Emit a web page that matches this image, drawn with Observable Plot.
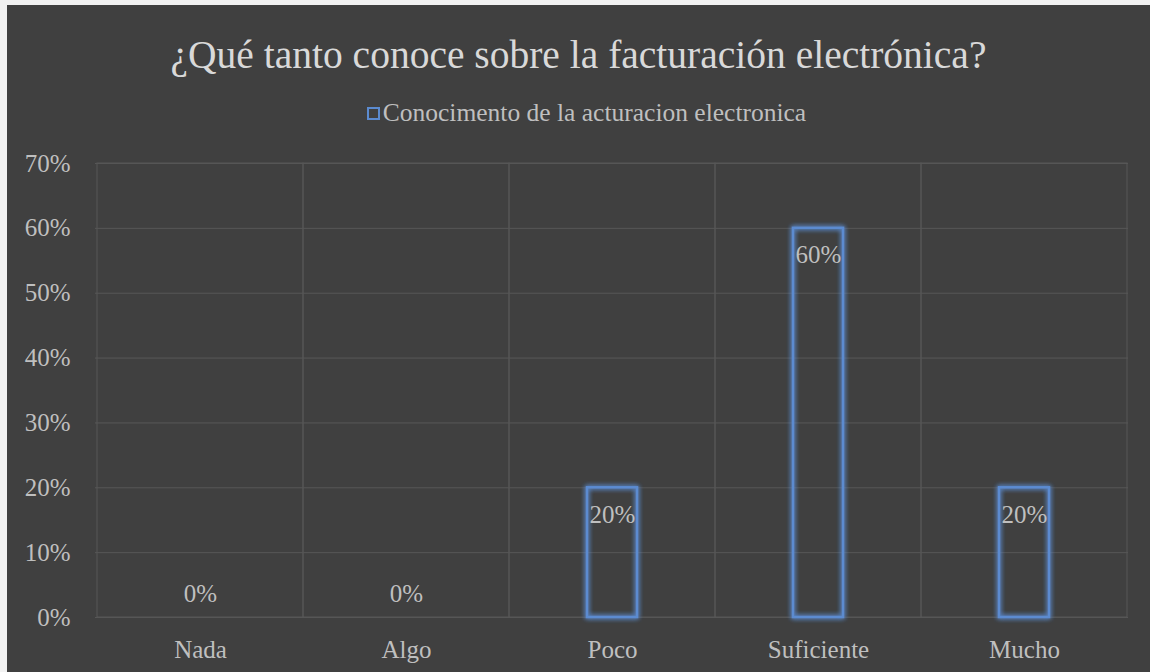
<!DOCTYPE html>
<html>
<head>
<meta charset="utf-8">
<script src="https://cdn.jsdelivr.net/npm/d3@7"></script>
<script src="https://cdn.jsdelivr.net/npm/@observablehq/plot@0.6"></script>
<style>
  html, body { margin: 0; padding: 0; background: #f2f2f2; }
  #chart { position: absolute; left: 7px; top: 5px; width: 1143px; height: 667px; background: #404040; overflow: hidden;
    font-family: "Liberation Serif", "DejaVu Serif", serif; }
  #title { position: absolute; left: 0; width: 100%; top: 29px; text-align: center; color: #d9d9d9; font-size: 39.5px; line-height: 42px; }
  #legend { position: absolute; left: 8px; width: 100%; top: 95px; text-align: center; color: #bfbfbf; font-size: 25.5px; line-height: 26px; }
  #legend .sw { display: inline-block; width: 9px; height: 9px; border: 2px solid #5b8bd0; margin-right: 3px; vertical-align: 1px; }
  #plot { position: absolute; left: 0; top: 135px; }
</style>
</head>
<body>
<div id="chart">
  <div id="title"></div>
  <div id="legend"></div>
  <div id="plot"></div>
</div>
<script>
const titleText = "¿Qué tanto conoce sobre la facturación electrónica?";
const seriesName = "Conocimento de la acturacion electronica";
const categories = ["Nada", "Algo", "Poco", "Suficiente", "Mucho"];
const values = [0, 0, 0.2, 0.6, 0.2];
const yTicks = [0, 0.1, 0.2, 0.3, 0.4, 0.5, 0.6, 0.7];

document.getElementById("title").textContent = titleText;
document.getElementById("legend").innerHTML = '<span class="sw"></span>' + seriesName;

const data = categories.map((c, i) => ({cat: c, value: values[i]}));
const fmt = d3.format(".0%");
const barColor = "#5b8bd0";
const gridColor = "#575757";
const textColor = "#bfbfbf";

const chart = Plot.plot({
  width: 1143,
  height: 532,
  marginLeft: 88,
  marginRight: 22,
  marginTop: 23,
  marginBottom: 55,
  style: {background: "transparent", color: textColor, fontFamily: "'Liberation Serif', 'DejaVu Serif', serif", fontSize: "25px"},
  x: {domain: categories, padding: 0, label: null},
  y: {domain: [yTicks[0], yTicks[yTicks.length - 1]], label: null},
  marks: [
    Plot.gridY(yTicks, {stroke: gridColor, strokeOpacity: 1}),
    Plot.barY(categories, {x: d => d, y1: yTicks[0], y2: yTicks[yTicks.length - 1], fill: "none", stroke: gridColor}),
    Plot.barY(data, {filter: d => d.value > 0, x: "cat", y: "value", fill: "none", stroke: barColor, strokeWidth: 2.5, insetLeft: 78, insetRight: 78, className: "glowbar"}),
    Plot.text(data, {filter: d => d.value > 0, x: "cat", y: "value", text: d => fmt(d.value), dy: 27, fill: textColor, fontSize: 25}),
    Plot.text(data, {filter: d => d.value === 0, x: "cat", y: "value", text: d => fmt(d.value), dy: -24, fill: textColor, fontSize: 25}),
    Plot.axisY(yTicks, {tickSize: 0, tickPadding: 25, tickFormat: fmt, fill: textColor}),
    Plot.axisX({tickSize: 0, tickPadding: 23, fill: textColor})
  ]
});
document.getElementById("plot").appendChild(chart);

// soft glow around bars
const ns = "http://www.w3.org/2000/svg";
const defs = document.createElementNS(ns, "defs");
defs.innerHTML = '<filter id="barglow" x="-60%" y="-20%" width="220%" height="140%">' +
  '<feGaussianBlur in="SourceGraphic" stdDeviation="2.5" result="blur"/>' +
  '<feMerge><feMergeNode in="blur"/><feMergeNode in="blur"/><feMergeNode in="SourceGraphic"/></feMerge></filter>';
chart.insertBefore(defs, chart.firstChild);
chart.querySelectorAll(".glowbar rect").forEach(r => r.setAttribute("filter", "url(#barglow)"));
</script>
</body>
</html>
